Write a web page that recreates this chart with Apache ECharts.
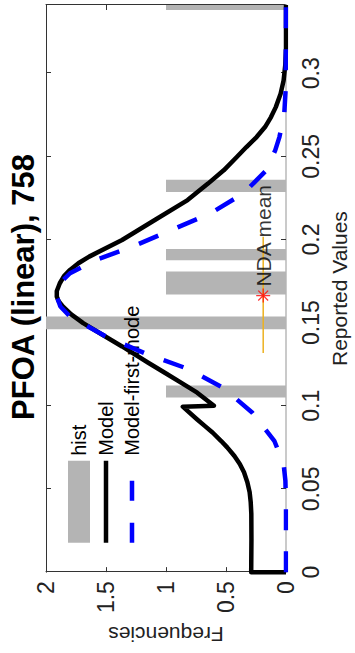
<!DOCTYPE html>
<html><head><meta charset="utf-8">
<script src="https://cdn.jsdelivr.net/npm/echarts@6/dist/echarts.min.js"></script>
<style>
html,body{margin:0;padding:0;width:355px;height:653px;overflow:hidden;background:#fff;}
#chart{position:absolute;left:0;top:0;width:653px;height:355px;transform-origin:0 0;transform:translate(0,653px) rotate(-90deg);}
</style></head><body><div id="chart"></div>
<script>
// ---- data ----
const titleText = 'PFOA (linear), 758';
const xName = 'Reported Values';
const yName = 'Frequencies';
const seriesNames = ['hist', 'Model', 'Model-first-mode'];

const histStart  = [0.105, 0.146, 0.167, 0.1875, 0.2285, 0.338];
const histEnd    = [0.1122, 0.1537, 0.1808, 0.1943, 0.2359, 0.341];
const histHeight = [1, 2, 1, 1, 1, 1];

const modelX = [0, 0, 0.02, 0.035, 0.042, 0.048, 0.054, 0.06, 0.065, 0.0698, 0.075, 0.0788, 0.0838, 0.0878, 0.0918, 0.0995, 0.1, 0.1079, 0.1139, 0.1199, 0.1259, 0.1357, 0.1427, 0.1497, 0.155, 0.1598, 0.163, 0.1657, 0.169, 0.1737, 0.178, 0.1817, 0.1857, 0.1897, 0.1997, 0.2117, 0.2237, 0.2336, 0.2416, 0.2496, 0.2556, 0.2616, 0.2676, 0.2736, 0.2796, 0.2876, 0.2956, 0.305, 0.315, 0.341];
const modelY = [0, 0.29, 0.288, 0.289, 0.294, 0.303, 0.322, 0.35, 0.385, 0.43, 0.49, 0.54, 0.61, 0.675, 0.74, 0.86, 0.60, 0.74, 0.875, 1.01, 1.148, 1.366, 1.53, 1.69, 1.79, 1.86, 1.895, 1.91, 1.91, 1.885, 1.85, 1.80, 1.73, 1.64, 1.366, 1.093, 0.82, 0.65, 0.519, 0.41, 0.33, 0.245, 0.175, 0.125, 0.085, 0.045, 0.02, 0.006, 0, 0];

const firstX = [0, 0.04, 0.055, 0.065, 0.0787, 0.0958, 0.1107, 0.1223, 0.1307, 0.1417, 0.1537, 0.1597, 0.1657, 0.1737, 0.1797, 0.1877, 0.1957, 0.2057, 0.2157, 0.2277, 0.2416, 0.2536, 0.2616, 0.275, 0.29, 0.341];
const firstY = [0, 0, 0.005, 0.02, 0.096, 0.28, 0.52, 0.82, 1.148, 1.50, 1.80, 1.88, 1.91, 1.885, 1.80, 1.585, 1.28, 0.956, 0.63, 0.355, 0.164, 0.09, 0.055, 0.015, 0.003, 0];

const ndaLabel = 'NDA mean';
const ndaMean = 0.1663, ndaLow = 0.1317, ndaHigh = 0.2017, ndaY = 0.19;

const xMin = 0, xMax = 0.341, xInterval = 0.05;
const yMin = 0, yMax = 2, yInterval = 0.5;

// ---- chart ----
const FONT = 'Liberation Sans, Arial, Helvetica, sans-serif';
const AX = '#333333';
const chart = echarts.init(document.getElementById('chart'), null, {renderer: 'svg'});
const star = 'path://M-0.8,-9 L0.8,-9 L0.8,9 L-0.8,9 Z M-9,-0.8 L9,-0.8 L9,0.8 L-9,0.8 Z M-6.9,-5.8 L-5.8,-6.9 L6.9,5.8 L5.8,6.9 Z M5.8,-6.9 L6.9,-5.8 L-5.8,6.9 L-6.9,5.8 Z';

const baseX = {type: 'value', min: xMin, max: xMax, interval: xInterval, splitLine: {show: false}};
const baseY = {type: 'value', min: yMin, max: yMax, interval: yInterval, splitLine: {show: false}};

chart.setOption({
  animation: false,
  backgroundColor: '#ffffff',
  title: {
    text: titleText, left: 366, top: 8, padding: 0, textAlign: 'center',
    textStyle: {fontFamily: FONT, fontSize: 31, fontWeight: 'bold', color: '#000'}
  },
  legend: {
    orient: 'vertical', left: 108, top: 68, padding: 0, itemGap: 6,
    itemWidth: 82, itemHeight: 22,
    textStyle: {fontFamily: FONT, fontSize: 20, color: '#000'},
    data: [
      {name: seriesNames[0], icon: 'rect'},
      {name: seriesNames[1], itemStyle: {opacity: 0}, lineStyle: {width: 4.5, color: '#000'}},
      {name: seriesNames[2], itemStyle: {opacity: 0}, lineStyle: {width: 4.5, color: '#0000ff', type: [20, 22]}}
    ]
  },
  grid: {left: 80, right: 5, top: 46, bottom: 65, containLabel: false},
  xAxis: [
    Object.assign({}, baseX, {
      position: 'bottom', name: xName, nameLocation: 'middle', nameGap: 43,
      nameTextStyle: {fontFamily: FONT, fontSize: 21, color: '#222'},
      axisLine: {show: true, onZero: false, lineStyle: {color: '#b8b8b8', width: 1.5}},
      axisTick: {show: true, inside: true, length: 5, lineStyle: {color: AX}},
      axisLabel: {show: true, margin: 13, showMaxLabel: false, fontFamily: FONT, fontSize: 23, color: '#222'}
    }),
    Object.assign({}, baseX, {
      position: 'top',
      axisLine: {show: true, onZero: false, lineStyle: {color: AX, width: 1}},
      axisTick: {show: true, inside: true, length: 5, lineStyle: {color: AX}},
      axisLabel: {show: false}
    })
  ],
  yAxis: [
    Object.assign({}, baseY, {
      position: 'left', name: yName, nameLocation: 'middle', nameGap: 49,
      nameTextStyle: {fontFamily: FONT, fontSize: 21, color: '#222'},
      axisLine: {show: true, onZero: false, lineStyle: {color: AX, width: 1}},
      axisTick: {show: true, inside: true, length: 5, lineStyle: {color: AX}},
      axisLabel: {show: true, margin: 9, fontFamily: FONT, fontSize: 23, color: '#222'}
    }),
    Object.assign({}, baseY, {
      position: 'right',
      axisLine: {show: true, onZero: false, lineStyle: {color: AX, width: 1}},
      axisTick: {show: true, inside: true, length: 5, lineStyle: {color: AX}},
      axisLabel: {show: false}
    })
  ],
  series: [
    {
      name: seriesNames[0], type: 'custom', xAxisIndex: 0, yAxisIndex: 0,
      itemStyle: {color: '#b4b4b4'},
      encode: {x: [0, 1], y: 2},
      data: histStart.map((s, i) => [s, histEnd[i], histHeight[i]]),
      renderItem: function (params, api) {
        const p0 = api.coord([api.value(0), api.value(2)]);
        const p1 = api.coord([api.value(1), 0]);
        return {type: 'rect', shape: {x: p0[0], y: p0[1], width: p1[0] - p0[0], height: p1[1] - p0[1]},
                style: {fill: '#b4b4b4'}};
      },
      z: 1
    },
    {
      name: seriesNames[1], type: 'line', symbol: 'none', smooth: false,
      lineStyle: {color: '#000', width: 4.5, join: 'round'}, itemStyle: {color: '#000'},
      data: modelX.map((x, i) => [x, modelY[i]]), z: 3
    },
    {
      name: seriesNames[2], type: 'line', symbol: 'none', smooth: false,
      lineStyle: {color: '#0000ff', width: 4.5, type: [21, 21]}, itemStyle: {color: '#0000ff'},
      data: firstX.map((x, i) => [x, firstY[i]]), z: 4
    },
    {
      name: 'nda-range', type: 'line', symbol: 'none', silent: true,
      lineStyle: {color: '#EDB120', width: 1.5},
      data: [[ndaLow, ndaY], [ndaHigh, ndaY]], z: 5
    },
    {
      name: 'nda', type: 'scatter', symbol: star, symbolSize: 14,
      itemStyle: {color: '#ff0000'},
      label: {show: true, position: 'right', distance: 2, formatter: ndaLabel,
              fontFamily: FONT, fontSize: 21, color: '#000'},
      data: [[ndaMean, ndaY]], z: 6
    }
  ]
});
</script></body></html>
